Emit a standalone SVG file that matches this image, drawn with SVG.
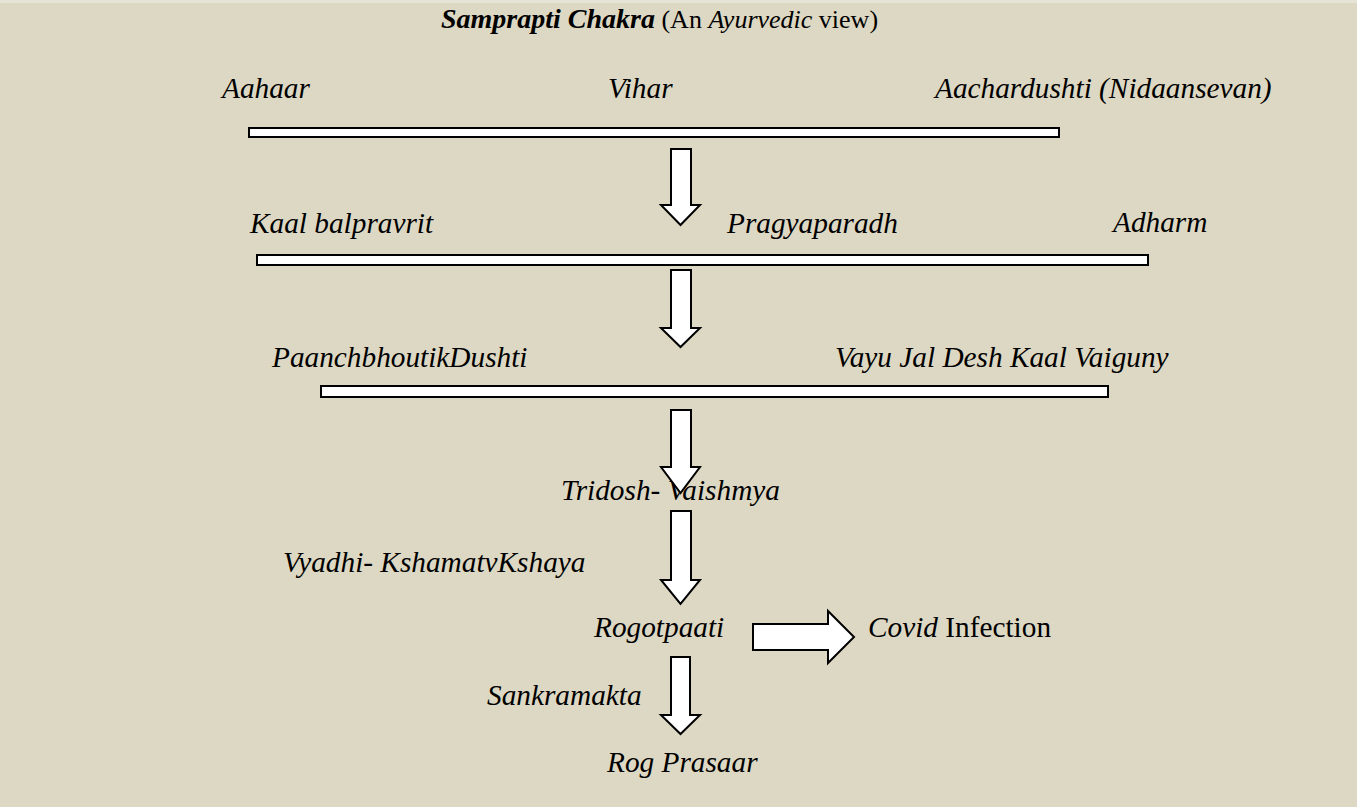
<svg xmlns="http://www.w3.org/2000/svg" width="1357" height="807" viewBox="0 0 1357 807">
<style>
text{font-family:"Liberation Serif","Times New Roman",serif;font-size:29.3px;fill:#000;}
.i{font-style:italic;}
.b{font-weight:bold;}
.t{font-size:28px;}
.tr{font-size:26px;}
.bar{fill:#fff;stroke:#000;stroke-width:2;}
.arr{fill:#fff;stroke:#000;stroke-width:2;stroke-linejoin:miter;}
</style>
<rect x="0" y="0" width="1357" height="807" fill="#e6e4d6"/>
<rect x="0" y="3" width="1357" height="804" fill="#ddd8c3"/>
<g id="title"><text class="t" x="441" y="28"><tspan class="b i">Samprapti Chakra</tspan><tspan class="tr"> (An </tspan><tspan class="tr i">Ayurvedic</tspan><tspan class="tr"> view)</tspan></text></g>
<g id="row1">
<text class="i" x="222" y="98">Aahaar</text>
<text class="i" x="608" y="98">Vihar</text>
<text class="i" x="935" y="98">Aachardushti (Nidaansevan)</text>
<rect class="bar" x="249" y="128" width="810" height="9"/>
</g>
<g id="row2">
<text class="i" x="250" y="233">Kaal balpravrit</text>
<text class="i" x="727" y="233">Pragyaparadh</text>
<text class="i" x="1113" y="232">Adharm</text>
<rect class="bar" x="257" y="255" width="891" height="10"/>
</g>
<g id="row3">
<text class="i" x="272" y="367">PaanchbhoutikDushti</text>
<text class="i" x="835" y="367">Vayu Jal Desh Kaal Vaiguny</text>
<rect class="bar" x="321" y="386" width="787" height="11"/>
</g>
<g id="tridosh"><text class="i" x="561" y="500">Tridosh- Vaishmya</text></g>
<g id="vyadhi"><text class="i" x="283" y="572">Vyadhi- KshamatvKshaya</text></g>
<g id="rogotpaati"><text class="i" x="594" y="637">Rogotpaati</text></g>
<g id="covid"><text x="868" y="637"><tspan class="i">Covid</tspan> Infection</text></g>
<g id="sankramakta"><text class="i" x="487" y="705">Sankramakta</text></g>
<g id="rogprasaar"><text class="i" x="607" y="772">Rog Prasaar</text></g>
<g id="connectors">
<polygon class="arr" points="671,149 691,149 691,205 700,205 680.5,225 661,205 671,205"/>
<polygon class="arr" points="671,270 691,270 691,328 700,328 680.5,347 661,328 671,328"/>
<polygon class="arr" points="671,410 691,410 691,467 700,467 680.5,493 661,467 671,467"/>
<polygon class="arr" points="671,511 691,511 691,580 700,580 680.5,604 661,580 671,580"/>
<polygon class="arr" points="671,657 690,657 690,715 700,715 680.5,734 661,715 671,715"/>
<polygon class="arr" points="753,624 828,624 828,611 854,637 828,663 828,650 753,650"/>
</g>
</svg>
